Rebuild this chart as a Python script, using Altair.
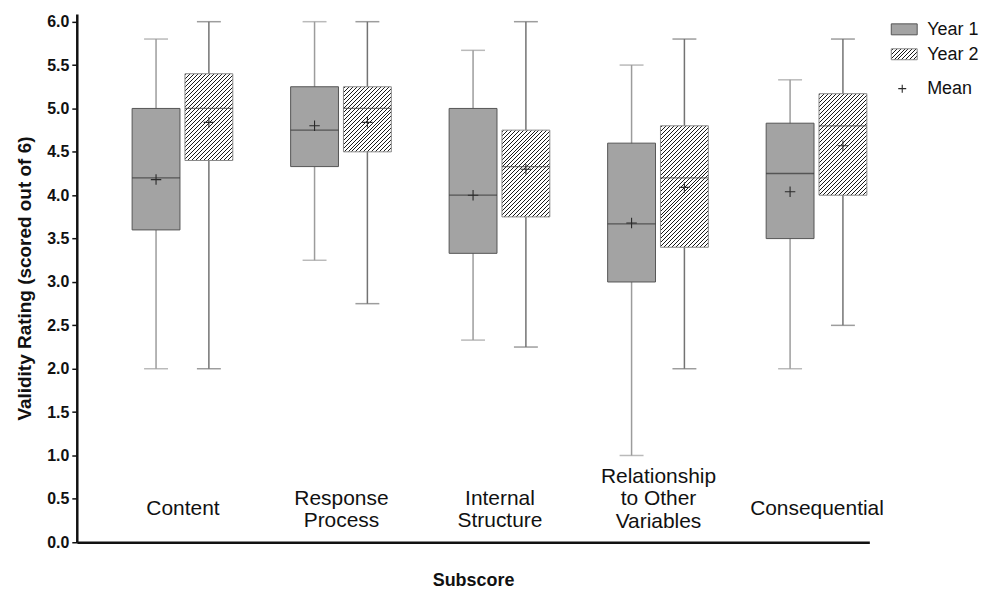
import altair as alt
import pandas as pd

categories = ["Content", "Response\nProcess", "Internal\nStructure",
              "Relationship\nto Other\nVariables", "Consequential"]
years = ["Year 1", "Year 2"]
legend_items = ["Year 1", "Year 2", "Mean"]

y1_min = [2.0, 3.25, 2.33, 1.0, 2.0]
y1_q1 = [3.6, 4.33, 3.33, 3.0, 3.5]
y1_med = [4.2, 4.75, 4.0, 3.67, 4.25]
y1_q3 = [5.0, 5.25, 5.0, 4.6, 4.83]
y1_max = [5.8, 6.0, 5.67, 5.5, 5.33]
y1_mean = [4.18, 4.8, 4.0, 3.68, 4.04]

y2_min = [2.0, 2.75, 2.25, 2.0, 2.5]
y2_q1 = [4.4, 4.5, 3.75, 3.4, 4.0]
y2_med = [5.0, 5.0, 4.33, 4.2, 4.8]
y2_q3 = [5.4, 5.25, 4.75, 4.8, 5.17]
y2_max = [6.0, 6.0, 6.0, 5.8, 5.8]
y2_mean = [4.84, 4.84, 4.3, 4.09, 4.57]

rows = []
for i, c in enumerate(categories):
    rows.append(dict(category=c, year="Year 1", lo=y1_min[i], q1=y1_q1[i], med=y1_med[i],
                     q3=y1_q3[i], hi=y1_max[i], mean=y1_mean[i]))
    rows.append(dict(category=c, year="Year 2", lo=y2_min[i], q1=y2_q1[i], med=y2_med[i],
                     q3=y2_q3[i], hi=y2_max[i], mean=y2_mean[i]))
df = pd.DataFrame(rows)

W, H = 795, 530
YMAX = 6.09
PX = H / YMAX
BOXW = 48
FONT = "Liberation Sans"


def hatch(w, h, period=4.0, line=1.0, dark="#1a1a1a", light="#ffffff"):
    total = w + h
    stops = [{"offset": 0, "color": light}]
    k = 0
    while True:
        s = (k * period + 1.0) / total
        e = (k * period + 1.0 + line) / total
        if s >= 1:
            break
        e = min(e, 1.0)
        stops += [{"offset": s, "color": light}, {"offset": s, "color": dark},
                  {"offset": e, "color": dark}, {"offset": e, "color": light}]
        k += 1
    stops.append({"offset": 1, "color": light})
    d = w * w + h * h
    return {"gradient": "linear", "x1": 0, "y1": 0,
            "x2": w * (w + h) / d, "y2": h * (w + h) / d, "stops": stops}


yscale = alt.Scale(domain=[0, YMAX], nice=False, zero=True)
yaxis = alt.Axis(values=[v / 2 for v in range(13)], format=".1f", grid=False,
                 labelFont=FONT, labelFontSize=16, labelFontWeight="bold", labelColor="#111",
                 labelPadding=3, tickSize=5, tickColor="#111", tickWidth=1.5,
                 domainColor="#111", domainWidth=2.5,
                 title="Validity Rating (scored out of 6)", titleFont=FONT, titleFontSize=19,
                 titleFontWeight="bold", titleColor="#111", titlePadding=12)

nlines = "length(split(datum.label, '\\n'))"
xaxis = alt.Axis(title="Subscore", labelAngle=0, ticks=False, grid=False,
                 labelExpr="split(datum.label, '\\n')",
                 labelFont=FONT, labelFontSize=21, labelColor="#111", labelLineHeight=22.5,
                 labelBaseline="middle",
                 labelPadding={"condition": [{"test": nlines + " == 3", "value": -66},
                                             {"test": nlines + " == 2", "value": -44}],
                               "value": -34},
                 labelOffset=27,
                 domainColor="#111", domainWidth=2.5,
                 titleFont=FONT, titleFontSize=18, titleFontWeight="bold", titleColor="#111",
                 titlePadding=29)

x_enc = alt.X("category:N", sort=categories,
              scale=alt.Scale(paddingInner=0, paddingOuter=0), axis=xaxis)
xo_enc = alt.XOffset("year:N", sort=years,
                     scale=alt.Scale(paddingInner=0, paddingOuter=0.5, align=1))

base = alt.Chart(df).encode(x=x_enc, xOffset=xo_enc)
is_y1 = "datum.year === 'Year 1'"
wcol = alt.condition(is_y1, alt.value("#9c9c9c"), alt.value("#737373"))

whisker = base.mark_rule(strokeWidth=1.5).encode(
    y=alt.Y("lo:Q", scale=yscale, axis=yaxis), y2="hi:Q", stroke=wcol)
cap_lo = base.mark_tick(size=24, thickness=1.5).encode(y="lo:Q", color=wcol)
cap_hi = base.mark_tick(size=24, thickness=1.5).encode(y="hi:Q", color=wcol)

box1 = base.transform_filter(is_y1).mark_bar(
    width=BOXW, fill="#a3a3a3", stroke="#555555", strokeWidth=1).encode(y="q1:Q", y2="q3:Q")

box2_layers = []
for i, c in enumerate(categories):
    hpx = (y2_q3[i] - y2_q1[i]) * PX
    box2_layers.append(
        base.transform_filter(alt.datum.year == "Year 2")
        .transform_filter(alt.datum.category == c)
        .mark_bar(width=BOXW, fill=hatch(BOXW, hpx), stroke="#8a8a8a", strokeWidth=1)
        .encode(y="q1:Q", y2="q3:Q"))

median = base.mark_tick(size=BOXW, thickness=1.3).encode(
    y="med:Q", color=alt.condition(is_y1, alt.value("#333333"), alt.value("#444444")))

PLUS = "M-1,0H1M0,-1V1"
mean = base.mark_point(shape=PLUS, size=110, filled=False, strokeWidth=1.1,
                       opacity=1, color="#2a2a2a").encode(y="mean:Q")

# legend
lg = [alt.Chart(pd.DataFrame({"item": [it]})) for it in legend_items]
sw1 = lg[0].mark_rect(fill="#a3a3a3", stroke="#555555", strokeWidth=1).encode(
    x=alt.value(817), x2=alt.value(843), y=alt.value(10), y2=alt.value(21))
sw2 = lg[1].mark_rect(fill=hatch(26, 11), stroke="#8a8a8a", strokeWidth=1).encode(
    x=alt.value(817), x2=alt.value(843), y=alt.value(35), y2=alt.value(46))
sw3 = lg[2].mark_point(shape=PLUS, size=64, filled=False, strokeWidth=1.1, opacity=1,
                       color="#2a2a2a").encode(x=alt.value(828), y=alt.value(75))
texts = []
for d, yy in zip(lg, [16, 41, 75]):
    texts.append(d.mark_text(align="left", baseline="middle", font=FONT, fontSize=18,
                             color="#111").encode(x=alt.value(853), y=alt.value(yy), text="item:N"))

chart = alt.layer(whisker, cap_lo, cap_hi, box1, *box2_layers, median, mean,
                  sw1, sw2, sw3, *texts).properties(
    width=W, height=H,
    padding={"left": 7, "top": 4, "right": 0, "bottom": 0},
).configure(font=FONT, background="white").configure_view(stroke=None)

chart.save("out.html", embed_options={"renderer": "svg", "actions": False})
